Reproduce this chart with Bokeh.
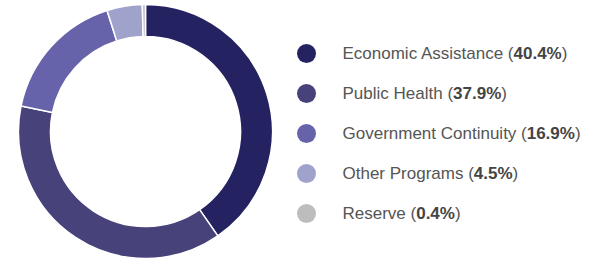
import glob
import numpy as np
from bokeh.plotting import figure
from bokeh.models import Range1d, ColumnDataSource
from bokeh.core.properties import value
from bokeh.embed import file_html
from bokeh.resources import INLINE

categories = ["Economic Assistance", "Public Health", "Government Continuity", "Other Programs", "Reserve"]
shares = [40.4, 37.9, 16.9, 4.5, 0.4]
colors = ["#252262", "#474279", "#6763ab", "#9fa3cc", "#bdbdbd"]

W, H = 586, 258
FONT = "Liberation Sans"
FS = 17

# text measurement
def _find(name):
    for d in ["/usr/share/fonts", "/usr/local/share/fonts", "/usr/lib/fonts"]:
        r = glob.glob(d + "/**/" + name, recursive=True)
        if r:
            return r[0]
    return None

try:
    from PIL import ImageFont
    reg = ImageFont.truetype(_find("LiberationSans-Regular.ttf"), FS)
    bold = ImageFont.truetype(_find("LiberationSans-Bold.ttf"), FS)
    def w_reg(s):
        return reg.getlength(s)
    def w_bold(s):
        return bold.getlength(s)
except Exception:
    def w_reg(s):
        return len(s) * FS * 0.5
    def w_bold(s):
        return len(s) * FS * 0.56

p = figure(width=W, height=H, output_backend="svg", toolbar_location=None,
           x_range=Range1d(0, W), y_range=Range1d(0, H), min_border=0,
           background_fill_color="white", border_fill_color="white")
p.axis.visible = False
p.grid.visible = False
p.outline_line_color = None

# donut
total = sum(shares)
fr = np.array(shares) / total
ends = np.cumsum(fr)
starts = ends - fr
start_ang = np.pi / 2 - 2 * np.pi * starts
end_ang = np.pi / 2 - 2 * np.pi * ends
cx, cy = 145, H - 131
src = ColumnDataSource(dict(start=start_ang, end=end_ang, color=colors))
p.annular_wedge(x=cx, y=cy, inner_radius=95, outer_radius=127, start_angle="start", end_angle="end",
                direction="clock", fill_color="color", line_color="white", line_width=1.5,
                inner_radius_units="screen", outer_radius_units="screen", source=src)

# legend
row_top = 53
step = 40
lx = 306
tx = 342
ys = [H - (row_top + i * step) for i in range(len(categories))]
p.scatter(x=[lx] * len(categories), y=ys, size=19, marker="circle", fill_color=colors, line_color=None)

xs1, xs2, xs3, t1, t2, t3 = [], [], [], [], [], []
for c, s in zip(categories, shares):
    a = c + " ("
    b = f"{s:.1f}%"
    xs1.append(tx)
    xs2.append(tx + w_reg(a))
    xs3.append(tx + w_reg(a) + w_bold(b))
    t1.append(a)
    t2.append(b)
    t3.append(")")

common = dict(text_font=value(FONT), text_font_size=f"{FS}px", text_baseline="middle", text_align="left")
p.text(x=xs1, y=ys, text=t1, text_color="#555555", **common)
p.text(x=xs2, y=ys, text=t2, text_color="#444444", text_font_style="bold", **common)
p.text(x=xs3, y=ys, text=t3, text_color="#555555", **common)

open("out.html", "w").write(file_html(p, INLINE))
